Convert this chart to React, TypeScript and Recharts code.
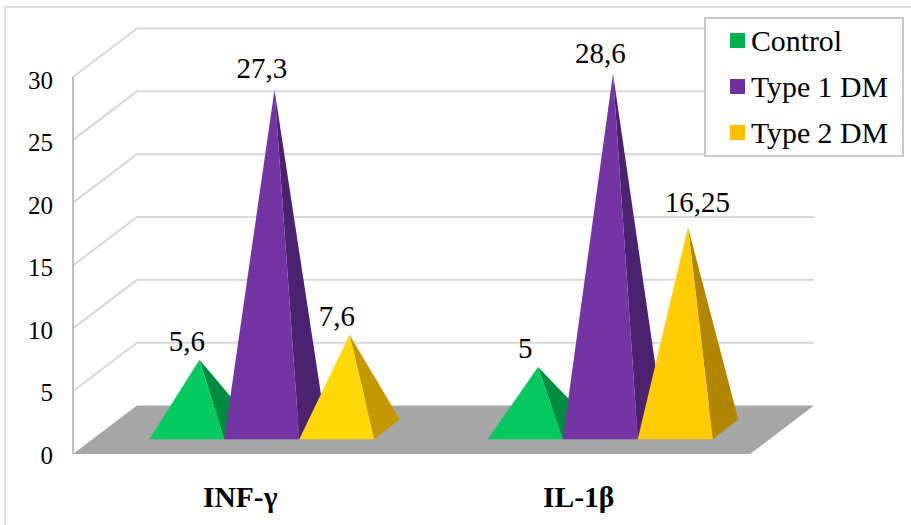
import React from 'react';
import { Bar, BarChart, CartesianGrid, LabelList, Legend, XAxis, YAxis } from 'recharts';

const categories = ['INF-γ', 'IL-1β'];
const controlValues = [5.6, 5];
const type1Values = [27.3, 28.6];
const type2Values = [7.6, 16.25];
const valueTicks = [0, 5, 10, 15, 20, 25, 30];

const seriesNames = ['Control', 'Type 1 DM', 'Type 2 DM'];
const legendColors = ['#00B050', '#7030A0', '#FFC000'];
const controlLit = ['#05CB60', '#05C95E'];
const controlShade = ['#008C3E', '#008C3E'];
const type1Lit = ['#7434A4', '#7434A4'];
const type1Shade = ['#4B2270', '#4B2270'];
const type2Lit = ['#FFD808', '#FFCD02'];
const type2Shade = ['#C49800', '#B38600'];
const type2LabelNudge = [[0, 0], [22, -6]];
const type1LabelNudge = [[0, -2.5], [0, -1]];
const noNudge = [[0, 0], [0, 0]];

const rows = categories.map((name, i) => ({
  name,
  control: controlValues[i],
  type1: type1Values[i],
  type2: type2Values[i],
}));

// Oblique projection of the chart box
const WALL_DX = 64;
const WALL_DY = 48.5;
// Where the pyramids stand on the floor, and the footprint of each one
const STAND_DX = 19.25;
const STAND_DY = 14.7;
const BASE_DX = 25.5;
const BASE_DY = 20;
const FORESHORTEN = 0.99;

const SERIF = '"Liberation Serif", serif';
const WALL_LINE = '#D9D9D9';

function apexOf(x: number, y: number, width: number, height: number) {
  const baseY = y + height - STAND_DY;
  return {
    baseY,
    left: x + STAND_DX,
    right: x + width + STAND_DX,
    apexX: x + width / 2 + STAND_DX + BASE_DX / 2,
    apexY: baseY - BASE_DY / 2 - height * FORESHORTEN,
  };
}

function pyramid(lit: string[], shade: string[]) {
  return function PyramidShape(props: any) {
    const { x, y, width, height, index } = props;
    const { baseY, left, right, apexX, apexY } = apexOf(x, y, width, height);
    return (
      <g>
        <polygon
          points={`${right},${baseY} ${right + BASE_DX},${baseY - BASE_DY} ${apexX},${apexY}`}
          fill={shade[index]}
        />
        <polygon points={`${left},${baseY} ${right},${baseY} ${apexX},${apexY}`} fill={lit[index]} />
      </g>
    );
  };
}

function valueLabel(nudge: number[][]) {
  return function ValueLabel(props: any) {
    const { x, y, width, height, value, index } = props;
    const { apexY } = apexOf(x, y, width, height);
    return (
      <text
        x={x + width / 2 + STAND_DX + nudge[index][0]}
        y={apexY - 9 + nudge[index][1]}
        textAnchor="middle"
        fontFamily={SERIF}
        fontSize={29}
        fill="#000"
      >
        {String(value).replace('.', ',')}
      </text>
    );
  };
}

// Each horizontal grid value becomes a line along the side wall and the back wall;
// the zero line also carries the floor.
function wallLine(props: any) {
  const { x1, y1, x2, y, height } = props;
  const isFloor = Math.abs(y1 - (y + height)) < 0.5;
  const backY = y1 - WALL_DY;
  return (
    <g key={props.key}>
      {isFloor ? (
        <>
          <polygon
            points={`${x1},${y1} ${x2},${y1} ${x2 + WALL_DX},${backY} ${x1 + WALL_DX},${backY}`}
            fill="#A6A6A6"
          />
          <line
            x1={x1 + WALL_DX}
            y1={backY}
            x2={x2 + WALL_DX}
            y2={backY}
            stroke={WALL_LINE}
            strokeWidth={1}
          />
        </>
      ) : (
        <polyline
          points={`${x1},${y1} ${x1 + WALL_DX},${backY} ${x2 + WALL_DX},${backY}`}
          fill="none"
          stroke={WALL_LINE}
          strokeWidth={2}
        />
      )}
    </g>
  );
}

// Value labels sit slightly below their grid lines, more so towards the top of the scale.
function ValueTick(props: any) {
  const { x, y, payload } = props;
  return (
    <text
      x={x}
      y={y + 9.5 + payload.value * 0.07}
      textAnchor="end"
      fontFamily={SERIF}
      fontSize={25}
      fill="#000"
    >
      {payload.value}
    </text>
  );
}

function CategoryTick(props: any) {
  const { x, y, payload } = props;
  return (
    <text
      x={x - 2}
      y={y + 25}
      textAnchor="middle"
      fontFamily={SERIF}
      fontSize={29.5}
      fontWeight={700}
      fill="#000"
    >
      {payload.value}
    </text>
  );
}

function LegendBox(props: any) {
  const items = props.payload ?? [];
  return (
    <div
      style={{
        boxSizing: 'border-box',
        width: 200,
        height: 140,
        background: '#fff',
        border: '2px solid #C8C8C8',
        fontFamily: SERIF,
        fontSize: 29.8,
        color: '#000',
        position: 'relative',
      }}
    >
      {items.map((item: any, i: number) => (
        <div
          key={item.value}
          style={{
            position: 'absolute',
            left: 24,
            top: 1.5 + i * 46.2,
            height: 40,
            display: 'flex',
            alignItems: 'center',
            whiteSpace: 'nowrap',
          }}
        >
          <span style={{ width: 15, height: 15, background: item.color, marginRight: 6, flex: 'none' }} />
          {item.value}
        </div>
      ))}
    </div>
  );
}

export default function App() {
  return (
    <div style={{ position: 'absolute', left: 0, top: 0, width: 911, height: 525, background: '#fff', overflow: 'hidden' }}>
      <div
        style={{
          position: 'absolute',
          left: 4,
          top: 6,
          right: 0,
          bottom: 0,
          borderTop: '2px solid #E0E0E0',
          borderLeft: '2px solid #E0E0E0',
        }}
      />
      <div style={{ position: 'absolute', left: 0, top: 0 }}>
        <BarChart
          width={911}
          height={525}
          data={rows}
          margin={{ top: 77, right: 161, bottom: 0, left: 0 }}
          barGap={0}
          barSize={75}
        >
          <CartesianGrid horizontal={wallLine} vertical={false} />
          <XAxis
            dataKey="name"
            axisLine={false}
            tickLine={false}
            height={71}
            tickMargin={22}
            tick={CategoryTick}
          />
          <YAxis
            width={73}
            domain={[0, 30]}
            ticks={valueTicks}
            interval={0}
            tickLine={false}
            tickMargin={14}
            axisLine={{ stroke: '#BFBFBF', strokeWidth: 2 }}
            tick={ValueTick}
          />
          <Legend
            layout="vertical"
            align="center"
            verticalAlign="middle"
            content={LegendBox}
            wrapperStyle={{ left: 704, top: 17, width: 200, height: 140, bottom: 'auto', right: 'auto' }}
          />
          <Bar
            dataKey="control"
            name={seriesNames[0]}
            fill={legendColors[0]}
            shape={pyramid(controlLit, controlShade)}
            isAnimationActive={false}
          >
            <LabelList dataKey="control" content={valueLabel(noNudge)} />
          </Bar>
          <Bar
            dataKey="type1"
            name={seriesNames[1]}
            fill={legendColors[1]}
            shape={pyramid(type1Lit, type1Shade)}
            isAnimationActive={false}
          >
            <LabelList dataKey="type1" content={valueLabel(type1LabelNudge)} />
          </Bar>
          <Bar
            dataKey="type2"
            name={seriesNames[2]}
            fill={legendColors[2]}
            shape={pyramid(type2Lit, type2Shade)}
            isAnimationActive={false}
          >
            <LabelList dataKey="type2" content={valueLabel(type2LabelNudge)} />
          </Bar>
        </BarChart>
      </div>
    </div>
  );
}
